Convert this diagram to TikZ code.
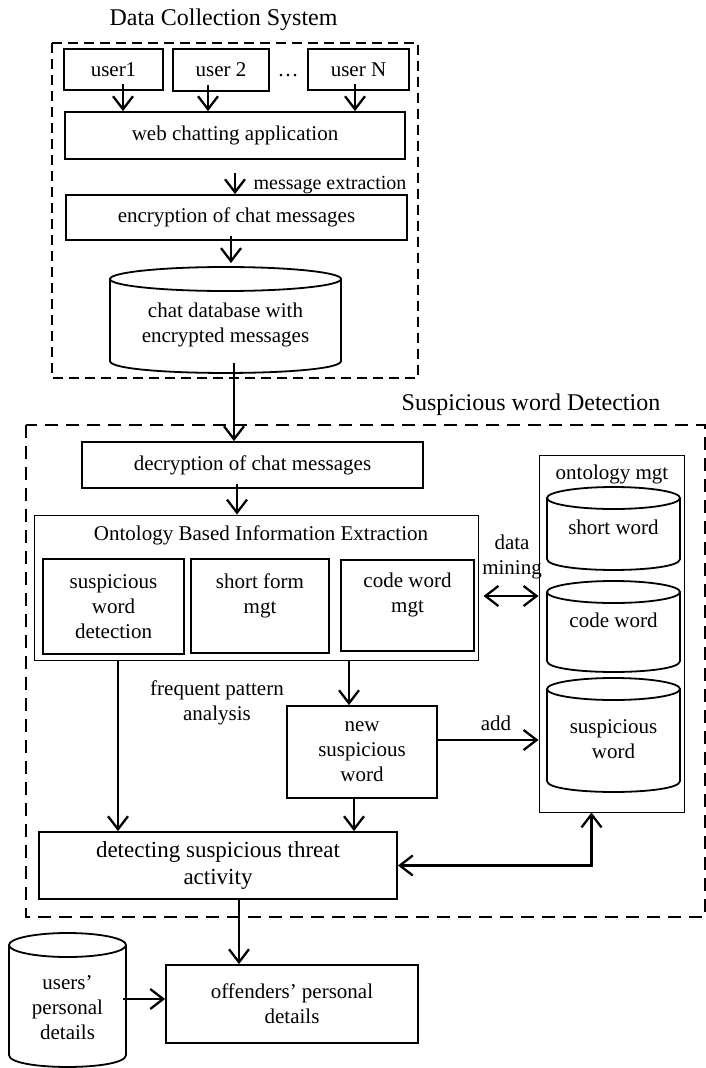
\documentclass[tikz,border=0pt]{standalone}
\usepackage{fontspec}
\setmainfont{Liberation Serif}
\usepackage{tikz}
\usetikzlibrary{arrows.meta}
\newcommand{\bodyfont}{\fontsize{21}{25}\selectfont}
\newcommand{\headfont}{\fontsize{24}{28}\selectfont}
% database drum: centre x, top y, bottom y, x radius, cap height
\newcommand{\drum}[5]{%
  \draw[outline] (#1,#2+#5) ellipse [x radius=#4, y radius=#5];
  \draw[outline] (#1-#4,#2+#5) -- (#1-#4,#3-#5)
    .. controls (#1-#4,#3+0.33*#5) and (#1+#4,#3+0.33*#5) .. (#1+#4,#3-#5)
    -- (#1+#4,#2+#5);
}

\begin{document}
\begin{tikzpicture}[
  x=1pt, y=-1pt,
  every node/.style={font=\bodyfont},
  box/.style={draw, line width=1.8pt, align=center, inner sep=0pt},
  thinframe/.style={draw, line width=1pt, inner sep=0pt},
  outline/.style={line width=1.8pt},
  dashframe/.style={line width=2.4pt, dash pattern=on 10pt off 6pt},
  dashframewide/.style={line width=2.4pt, dash pattern=on 13pt off 8pt},
  lbl/.style={align=center, inner sep=0pt},
  link/.style={line width=2.3pt, -{Straight Barb[length=13pt, width=20pt]}},
  twoway/.style={line width=2.3pt, {Straight Barb[length=13pt, width=20pt]}-{Straight Barb[length=13pt, width=20pt]}},
]
\useasboundingbox (0,0) rectangle (706,1068);

% Data collection part
\node[font=\headfont] (dcstitle) at (223.5,20) {Data Collection System};
\draw[dashframe] (52,43) rectangle (418,378);

\node[box, minimum width=99, minimum height=41] (user1) at (113.5,69.5) {user1};
\node[box, minimum width=96, minimum height=42] (user2) at (221,70) {user 2};
\node (dots) at (288,76) {\dots};
\node[box, minimum width=101, minimum height=41] (userN) at (358.5,69.5) {user N};
\node[box, minimum width=340, minimum height=47] (web) at (235,135.5) {web chatting application};
\node[lbl, font=\fontsize{20}{24}\selectfont] (msgx) at (330,185) {message extraction};
\node[box, minimum width=341, minimum height=45] (encrypt) at (236.5,217.5) {encryption of chat messages};

\drum{225.5}{267}{373}{115.5}{12}
\node[lbl] (chatdb) at (225.5,324.5) {chat database with\\encrypted messages};
\coordinate (chatdbtop) at (225.5,263);
\coordinate (chatdbfoot) at (234,363);

\draw[link] ([xshift=9.5pt,yshift=7pt]user1.south) -- ([xshift=9.5pt]user1.south |- web.north);
\draw[link] ([xshift=-13pt,yshift=7pt]user2.south) -- ([xshift=-13pt]user2.south |- web.north);
\draw[link] ([xshift=-3.5pt,yshift=7pt]userN.south) -- ([xshift=-3.5pt]userN.south |- web.north);
\draw[link] ([yshift=-13pt]web.south) -- (web.south |- encrypt.north);
\draw[link] ([xshift=-5.5pt,yshift=5pt]encrypt.south) -- ([xshift=-5.5pt]encrypt.south |- chatdbtop);

% Suspicious word detection part
\node[font=\headfont] (swdtitle) at (531,405) {Suspicious word Detection};
\draw[dashframewide] (26,425) rectangle (705,917);

\node[box, minimum width=341, minimum height=46] (decrypt) at (252.5,465) {decryption of chat messages};
\node[thinframe, minimum width=444, minimum height=145] (obie) at (256,587.5) {};
\node (obietitle) at (261,535) {Ontology Based Information Extraction};
\node[box, minimum width=141, minimum height=95] (swdet) at (113.5,606.5) {suspicious\\word\\detection};
\node[box, minimum width=138, minimum height=94] (sform) at (260,606) {short form\\mgt\\\mbox{}};
\node[box, minimum width=133, minimum height=91] (cwmgt) at (407.5,605.5) {code word\\mgt\\\mbox{}};
\node[lbl] (dmlbl) at (512,557) {data\\mining};

\node[thinframe, minimum width=145, minimum height=357] (onto) at (611.5,633.5) {};
\node (ontotitle) at (612,474) {ontology mgt};
\drum{613.5}{487}{570}{66.5}{11}
\node[lbl] (shortw) at (613.5,527) {short word};
\drum{613.5}{581}{672}{66.5}{11}
\node[lbl] (codew) at (613.5,620) {code word};
\drum{613.5}{678}{792}{66.5}{11}
\node[lbl] (suspw) at (613.5,739.5) {suspicious\\word};

\node[lbl] (fpa) at (217,702.5) {frequent pattern\\analysis};
\node[box, minimum width=150, minimum height=92] (newsw) at (362,752) {new\\suspicious\\word};
\node[lbl] (addlbl) at (496,723) {add};
\node[box, minimum width=358, minimum height=67, font=\fontsize{23}{27}\selectfont] (detect) at (218,865.5) {detecting suspicious threat\\activity};

\draw[link] (chatdbfoot) -- (chatdbfoot |- decrypt.north);
\draw[link] ([xshift=-15.5pt,yshift=5pt]decrypt.south) -- ([xshift=-15.5pt]decrypt.south |- obie.north);
\draw[twoway] ([xshift=5pt,yshift=-8.5pt]obie.east) -- ([yshift=-8.5pt]obie.east -| onto.west);
\draw[link] ([xshift=4.5pt]swdet.south |- obie.south) -- ([xshift=4.5pt]swdet.south |- detect.north);
\draw[link] ([xshift=-13pt]newsw.north |- obie.south) -- ([xshift=-13pt]newsw.north);
\draw[link] ([xshift=-8pt]newsw.south) -- ([xshift=-8pt]newsw.south |- detect.north);
\draw[link] ([yshift=12pt]newsw.east) -- ([yshift=12pt]newsw.east -| onto.west);
\draw[twoway] (detect.east) -| ([xshift=-20pt]onto.south);

% Output part
\node[box, minimum width=252, minimum height=78] (offend) at (292,1004) {offenders’ personal\\details};
\drum{67.5}{933}{1067}{58.5}{12}
\node[lbl] (userdb) at (67.5,1008) {users’\\personal\\details};
\coordinate (userdbside) at (123,999);

\draw[link] ([xshift=21pt]detect.south) -- ([xshift=21pt]detect.south |- offend.north);
\draw[link] (userdbside) -- (userdbside -| offend.west);

\end{tikzpicture}
\end{document}
